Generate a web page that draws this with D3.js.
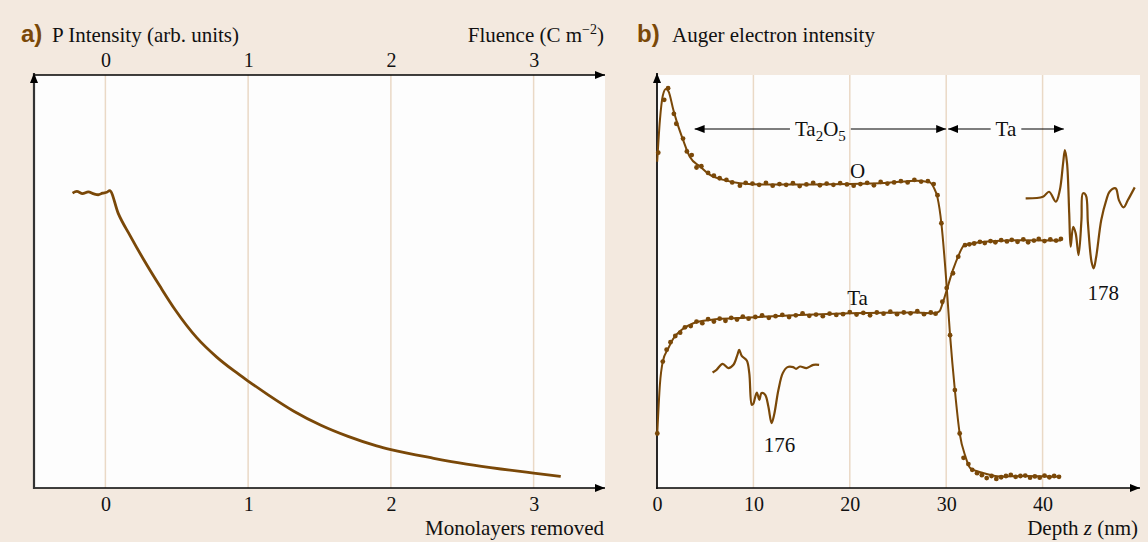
<!DOCTYPE html>
<html>
<head>
<meta charset="utf-8">
<script src="https://cdn.jsdelivr.net/npm/d3@7"></script>
<style>
  body { margin: 0; background: #f3e9df; }
  svg { display: block; }
  text { font-family: "Liberation Serif", "Times New Roman", serif; fill: #111; }
</style>
</head>
<body>
<svg id="chart" width="1148" height="542"></svg>
<script>
// ---- panel a: P intensity vs monolayers removed
var monoTicks = [0, 1, 2, 3];
var fluenceTicks = [0, 1, 2, 3];
var monolayers = [-0.23, -0.2, -0.16, -0.12, -0.08, -0.05, -0.02, 0.01, 0.03,
  0.09, 0.175, 0.27, 0.385, 0.49, 0.64, 0.78, 0.9, 1.0, 1.13, 1.32, 1.51, 1.7,
  1.9, 2.0, 2.3, 2.53, 2.77, 3.0, 3.19];
var pIntensity = [71.4, 71.8, 71.3, 71.7, 71.2, 71.0, 71.4, 71.6, 72.0,
  66.5, 61.0, 55.2, 48.7, 43.1, 36.4, 31.7, 28.4, 25.9, 22.8, 18.6, 15.2, 12.5,
  10.2, 9.3, 7.2, 5.8, 4.6, 3.6, 2.8];

// ---- panel b: Auger depth profile
var depthTicks = [0, 10, 20, 30, 40];
// smooth fitted lines
var oDepth = [0.02, 0.3, 0.6, 0.93, 1.2, 1.7, 2.05, 2.7, 3.4, 4.5, 5.5, 6.9, 8.6, 11, 15, 20, 24, 27,
  28.3, 28.7, 29.1, 29.5, 30.0, 30.4, 30.9, 31.4, 32.0, 32.5, 33.9, 35.6, 38.1, 41.9];
var oLine = [79, 89, 95, 96.6, 96, 91.5, 88.7, 84.3, 80.2, 77.8, 75.8, 74.6, 73.8, 73.5, 73.5, 73.6, 73.9, 74.4,
  74.0, 72.8, 70.3, 64.1, 50.4, 37, 23.7, 13.2, 7.6, 4.8, 3.6, 2.8, 2.9, 2.7];
var taDepth = [0.03, 0.3, 0.6, 1.17, 1.7, 2.56, 3.77, 5.5, 9.65, 14.8, 20, 26.9, 28.8, 29.3, 29.6,
  30.05, 30.7, 31.3, 31.8, 32.3, 33.9, 37.3, 41.9];
var taLine = [13.2, 25, 30.6, 33.8, 36.2, 38.3, 39.9, 40.7, 41.3, 41.9, 42.3, 42.5, 42.3, 42.8, 44.5,
  47.9, 52.8, 56.4, 58.6, 59.0, 59.6, 60.0, 59.9];
// measured points
var oDotZ = [0.13, 0.75, 1.15, 1.75, 2.0, 2.7, 3.1, 3.6, 4.1, 4.6, 5.3, 5.9, 6.5, 7.2, 7.8, 8.6, 9.2, 9.9,
  10.6, 11.3, 12.0, 12.7, 13.4, 14.1, 14.8, 15.5, 16.2, 16.9, 17.6, 18.3, 19.0, 19.7, 20.4, 21.1, 21.8,
  22.5, 23.2, 23.9, 24.6, 25.3, 26.0, 26.7, 27.4, 28.1, 28.7, 29.1, 29.5, 30.4, 30.9, 31.4, 31.8, 32.3,
  32.7, 33.2, 33.7, 34.2, 34.7, 35.2, 35.7, 36.2, 36.7, 37.2, 37.7, 38.2, 38.7, 39.2, 39.7, 40.2, 40.7,
  41.2, 41.7];
var oDotI = [81.2, 94, 96.8, 90.6, 88.2, 84.6, 81.5, 80.6, 77.6, 77.9, 76.3, 75.6, 75.0, 74.6, 74.0, 73.2,
  73.9, 73.7, 73.4, 73.9, 73.2, 73.6, 73.4, 73.8, 73.1, 73.5, 73.9, 73.3, 73.7, 73.4, 73.8, 73.5, 73.2,
  73.6, 73.9, 73.3, 74.1, 73.7, 74.0, 74.3, 74.0, 74.6, 74.2, 74.3, 73.6, 70.9, 64.1, 37.0, 23.7, 13.2,
  7.3, 5.8, 4.4, 3.6, 3.1, 2.4, 2.9, 2.2, 2.6, 2.9, 3.2, 2.7, 2.9, 3.0, 2.5, 2.8, 2.5, 3.0, 2.6, 2.9, 2.7];
var taDotZ = [0.03, 0.6, 1.0, 1.4, 1.9, 2.4, 2.9, 3.5, 4.1, 4.7, 5.3, 5.9, 6.5, 7.1, 7.7, 8.3, 8.9, 9.5,
  10.2, 10.9, 11.6, 12.3, 13.0, 13.7, 14.4, 15.1, 15.8, 16.5, 17.2, 17.9, 18.6, 19.3, 20.0, 20.7, 21.4,
  22.1, 22.8, 23.5, 24.2, 24.9, 25.6, 26.3, 27.0, 27.7, 28.4, 28.9, 29.6, 30.05, 30.7, 31.25, 31.95,
  32.4, 32.9, 33.5, 34.0, 34.6, 35.1, 35.7, 36.3, 36.8, 37.4, 38.0, 38.5, 39.1, 39.6, 40.2, 40.8, 41.4, 41.9];
var taDotI = [13.2, 30.6, 33.5, 35.3, 36.8, 37.6, 38.9, 39.2, 40.3, 39.9, 40.9, 40.3, 41.0, 40.5, 41.2,
  40.8, 41.5, 41.0, 41.4, 41.8, 41.2, 41.6, 41.9, 41.4, 41.8, 42.3, 41.7, 42.0, 41.6, 42.2, 41.9, 42.1,
  42.6, 42.0, 42.4, 41.8, 42.5, 42.2, 42.7, 42.1, 42.5, 42.3, 42.8, 42.1, 42.5, 42.2, 45.1, 48.4, 52.0,
  56.0, 58.8, 59.0, 59.2, 59.6, 59.3, 59.8, 59.5, 60.0, 59.7, 60.1, 59.6, 60.2, 59.5, 59.9, 60.3, 59.8,
  60.2, 59.9, 60.3];

// Auger spectra insets (energy in eV, derivative signal in arb. units)
var spec176E = [159.3, 160.4, 162.1, 163.7, 165.1, 166.2, 166.7, 167.4, 168.8, 169.5, 170.2, 170.6,
  171.6, 172.3, 172.9, 173.9, 174.8, 175.7, 176.4, 177.6, 178.8, 180.1, 181.7, 182.5, 183.6, 185.4,
  187.3, 188.9];
var spec176A = [-0.47, -0.2, 0.4, -0.03, 0.3, 1.3, 1.8, 1.2, 0.73, -0.53, -3.7, -3.6, -2.47, -3.2,
  -2.53, -2.7, -3.87, -5.53, -4.7, -2.2, -0.53, 0.07, 0.07, -0.1, 0.13, -0.03, 0.3, 0.3];
var spec178E = [159.1, 163.9, 165.6, 167.5, 168.6, 169.5, 170.0, 170.6, 171.2, 171.6, 172.3, 173.0,
  173.8, 174.6, 175.0, 175.8, 176.4, 177.4, 178.0, 178.7, 180.1, 181.5, 182.4, 184.1, 185.0, 186.3,
  187.5, 189.4];
var spec178A = [-0.03, 0.13, 0.63, -0.37, 0.8, 3.47, 4.8, 3.47, -1.53, -4.87, -2.87, -3.53, -5.7, -2.2,
  0.47, 0.3, -2.53, -6.37, -7.03, -5.87, -2.2, -0.2, 0.63, 0.97, -0.2, -0.93, -0.2, 1.07];

var regions = [
  {label: "Ta2O5", from: 3.9, to: 30.0},
  {label: "Ta", from: 30.2, to: 42.2}
];

// ---- layout
var brown = "#7a4808";
var grid = "#ead9c6";
var svg = d3.select("#chart");

svg.append("rect").attr("width", 1148).attr("height", 542).attr("fill", "#f3e9df");

var defs = svg.append("defs");
defs.append("marker")
  .attr("id", "arrow")
  .attr("viewBox", "0 0 10 8")
  .attr("refX", 10).attr("refY", 4)
  .attr("markerWidth", 10).attr("markerHeight", 8)
  .attr("markerUnits", "userSpaceOnUse")
  .attr("orient", "auto-start-reverse")
  .append("path").attr("d", "M0,0L10,4L0,8Z").attr("fill", "#000");

var plotTop = 75, plotBottom = 488;
var y = d3.scaleLinear().domain([0, 100]).range([plotBottom, plotTop]);
var tickFont = 20, labelFont = 21;

// ===== panel a
var xA = d3.scaleLinear().domain([-0.5, 3.5]).range([34, 605]);
var gA = svg.append("g");
gA.append("rect").attr("x", 34).attr("y", plotTop).attr("width", 571).attr("height", plotBottom - plotTop)
  .attr("fill", "#fdfdfd");
gA.selectAll(".grid").data(monoTicks).enter().append("line")
  .attr("x1", function(d) { return xA(d); }).attr("x2", function(d) { return xA(d); })
  .attr("y1", plotTop).attr("y2", plotBottom)
  .attr("stroke", grid).attr("stroke-width", 1.5);

var axA = gA.append("g").attr("transform", "translate(0," + plotBottom + ")")
  .call(d3.axisBottom(xA).tickValues(monoTicks).tickSize(0).tickPadding(9).tickFormat(d3.format("d")));
var axAt = gA.append("g").attr("transform", "translate(0," + plotTop + ")")
  .call(d3.axisTop(xA).tickValues(fluenceTicks).tickSize(0).tickPadding(8).tickFormat(d3.format("d")));
[axA, axAt].forEach(function(ax) {
  ax.select(".domain").remove();
  ax.selectAll("text").attr("font-size", tickFont).attr("font-family", "Liberation Serif").attr("fill", "#111");
});

// axis lines with arrows
gA.append("line").attr("x1", 33).attr("x2", 605).attr("y1", plotBottom).attr("y2", plotBottom)
  .attr("stroke", "#000").attr("stroke-width", 1.6).attr("marker-end", "url(#arrow)");
gA.append("line").attr("x1", 33).attr("x2", 605).attr("y1", plotTop).attr("y2", plotTop)
  .attr("stroke", "#000").attr("stroke-width", 1.6).attr("marker-end", "url(#arrow)");
gA.append("line").attr("x1", 34).attr("x2", 34).attr("y1", plotBottom + 1).attr("y2", plotTop - 2)
  .attr("stroke", "#333").attr("stroke-width", 2.2).attr("marker-end", "url(#arrow)");

var lineA = d3.line()
  .x(function(d, i) { return xA(monolayers[i]); })
  .y(function(d) { return y(d); })
  .curve(d3.curveMonotoneX);
gA.append("path").datum(pIntensity).attr("d", lineA)
  .attr("fill", "none").attr("stroke", brown).attr("stroke-width", 2.8).attr("stroke-linejoin", "round");

gA.append("text").attr("x", 21).attr("y", 42).attr("font-size", 24).attr("font-weight", "bold")
  .style("font-family", "'Liberation Sans Narrow', 'Liberation Sans', sans-serif").style("fill", brown).text("a)");
gA.append("text").attr("x", 52).attr("y", 42).attr("font-size", labelFont).text("P Intensity (arb. units)");
var fl = gA.append("text").attr("x", 604).attr("y", 42).attr("font-size", labelFont).attr("text-anchor", "end");
fl.append("tspan").text("Fluence (C m");
fl.append("tspan").attr("font-size", 14).attr("dy", -8).text("\u22122");
fl.append("tspan").attr("dy", 8).text(")");
gA.append("text").attr("x", 604).attr("y", 535).attr("font-size", labelFont).attr("text-anchor", "end")
  .text("Monolayers removed");

// ===== panel b
var xB = d3.scaleLinear().domain([0, 50]).range([657, 1139]);
var gB = svg.append("g");
gB.append("rect").attr("x", 657).attr("y", plotTop).attr("width", 483).attr("height", plotBottom - plotTop)
  .attr("fill", "#fdfdfd");
gB.selectAll(".grid").data(depthTicks.slice(1)).enter().append("line")
  .attr("x1", function(d) { return xB(d); }).attr("x2", function(d) { return xB(d); })
  .attr("y1", plotTop).attr("y2", plotBottom)
  .attr("stroke", grid).attr("stroke-width", 1.5);

var axB = gB.append("g").attr("transform", "translate(0," + plotBottom + ")")
  .call(d3.axisBottom(xB).tickValues(depthTicks).tickSize(0).tickPadding(9).tickFormat(d3.format("d")));
axB.select(".domain").remove();
axB.selectAll("text").attr("font-size", tickFont).attr("font-family", "Liberation Serif").attr("fill", "#111");

gB.append("line").attr("x1", 656).attr("x2", 1140).attr("y1", plotBottom).attr("y2", plotBottom)
  .attr("stroke", "#000").attr("stroke-width", 1.6).attr("marker-end", "url(#arrow)");
gB.append("line").attr("x1", 657).attr("x2", 657).attr("y1", plotBottom + 1).attr("y2", plotTop - 2)
  .attr("stroke", "#111").attr("stroke-width", 1.8).attr("marker-end", "url(#arrow)");

function profile(zs, vs) {
  return d3.line()
    .x(function(d, i) { return xB(zs[i]); })
    .y(function(d) { return y(d); })
    .curve(d3.curveMonotoneX)(vs);
}
gB.append("path").attr("d", profile(oDepth, oLine))
  .attr("fill", "none").attr("stroke", brown).attr("stroke-width", 2);
gB.append("path").attr("d", profile(taDepth, taLine))
  .attr("fill", "none").attr("stroke", brown).attr("stroke-width", 2);

gB.selectAll(".odot").data(oDotI).enter().append("circle")
  .attr("cx", function(d, i) { return xB(oDotZ[i]); }).attr("cy", function(d) { return y(d); })
  .attr("r", 2.4).attr("fill", brown);
gB.selectAll(".tadot").data(taDotI).enter().append("circle")
  .attr("cx", function(d, i) { return xB(taDotZ[i]); }).attr("cy", function(d) { return y(d); })
  .attr("r", 2.4).attr("fill", brown);

// spectra insets, anchored in depth/intensity coordinates
function inset(E, A, eRef, anchorZ, anchorI) {
  var ex = d3.scaleLinear().domain([eRef, eRef + 10]).range([xB(anchorZ), xB(anchorZ) + 36]);
  var ay = d3.scaleLinear().domain([0, 1]).range([y(anchorI), y(anchorI) - 10]);
  var ln = d3.line().x(function(d, i) { return ex(E[i]); }).y(function(d) { return ay(d); })
    .curve(d3.curveCatmullRom.alpha(0.5));
  gB.append("path").datum(A).attr("d", ln)
    .attr("fill", "none").attr("stroke", brown).attr("stroke-width", 2.2);
}
inset(spec176E, spec176A, 176, 12.0, 29.1);
inset(spec178E, spec178A, 178, 45.3, 70.2);
gB.append("text").attr("x", xB(12.7)).attr("y", 452).attr("font-size", labelFont).attr("text-anchor", "middle").text("176");
gB.append("text").attr("x", xB(46.3)).attr("y", 300).attr("font-size", labelFont).attr("text-anchor", "middle").text("178");

gB.append("text").attr("x", xB(20.8)).attr("y", 178).attr("font-size", labelFont).attr("text-anchor", "middle").text("O");
gB.append("text").attr("x", xB(20.8)).attr("y", 305).attr("font-size", labelFont).attr("text-anchor", "middle").text("Ta");

// layer regions with double arrows
var arrowY = 129;
regions.forEach(function(r) {
  var mid = (xB(r.from) + xB(r.to)) / 2;
  var t = gB.append("text").attr("x", mid).attr("y", arrowY + 7).attr("font-size", labelFont).attr("text-anchor", "middle");
  if (r.label === "Ta2O5") {
    t.append("tspan").text("Ta");
    t.append("tspan").attr("font-size", 15).attr("dy", 5).text("2");
    t.append("tspan").attr("dy", -5).text("O");
    t.append("tspan").attr("font-size", 15).attr("dy", 5).text("5");
  } else {
    t.text(r.label);
  }
  var w = t.node().getComputedTextLength() / 2 + 5;
  gB.append("line").attr("x1", mid - w).attr("x2", xB(r.from)).attr("y1", arrowY).attr("y2", arrowY)
    .attr("stroke", "#000").attr("stroke-width", 1.2).attr("marker-end", "url(#arrow)");
  gB.append("line").attr("x1", mid + w).attr("x2", xB(r.to)).attr("y1", arrowY).attr("y2", arrowY)
    .attr("stroke", "#000").attr("stroke-width", 1.2).attr("marker-end", "url(#arrow)");
});

gB.append("text").attr("x", 637).attr("y", 42).attr("font-size", 24).attr("font-weight", "bold")
  .style("font-family", "'Liberation Sans Narrow', 'Liberation Sans', sans-serif").style("fill", brown).text("b)");
gB.append("text").attr("x", 672).attr("y", 42).attr("font-size", labelFont).text("Auger electron intensity");
var dl = gB.append("text").attr("x", 1138).attr("y", 535).attr("font-size", labelFont).attr("text-anchor", "end");
dl.append("tspan").text("Depth ");
dl.append("tspan").attr("font-style", "italic").text("z");
dl.append("tspan").text(" (nm)");
</script>
</body>
</html>
